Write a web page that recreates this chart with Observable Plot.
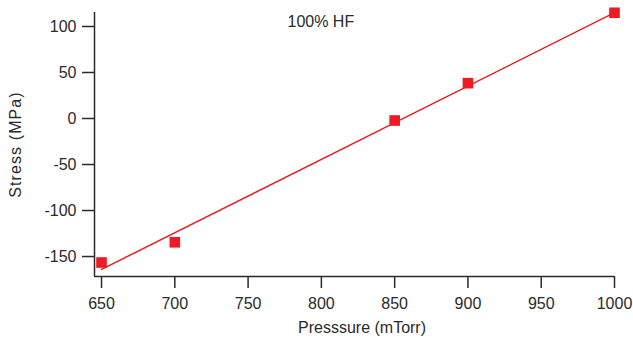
<!DOCTYPE html>
<html><head><meta charset="utf-8">
<script src="https://cdn.jsdelivr.net/npm/d3@7"></script>
<script src="https://cdn.jsdelivr.net/npm/@observablehq/plot@0.6"></script>
<style>body{margin:0;background:#fff} svg{display:block}</style>
</head><body><div id="chart"></div>
<script>
const pressure = [650, 700, 850, 900, 1000];
const stress = [-156.5, -134.5, -2.2, 38.4, 114.9];
const fitPressure = [650, 1000];
const fitStress = [-164, 115];
const xTicks = [650, 700, 750, 800, 850, 900, 950, 1000];
const yTicks = [-150, -100, -50, 0, 50, 100];
const xDomain = [645.2, 1000];
const yDomain = [-171.7, 115.2];
const xLabel = "Presssure (mTorr)";
const yLabel = "Stress (MPa)";
const title = "100% HF";

const points = pressure.map((p, i) => ({p, s: stress[i]}));
const fit = fitPressure.map((p, i) => ({p, s: fitStress[i]}));
const red = "#ed1c24";
const ink = "#2a2a2a";

const chart = Plot.plot({
  width: 633, height: 338,
  marginLeft: 94, marginRight: 19, marginTop: 12, marginBottom: 62,
  style: {fontFamily: "'Liberation Sans', Arial, sans-serif", fontSize: "16px", color: ink, background: "#fff"},
  x: {domain: xDomain},
  y: {domain: yDomain},
  marks: [
    Plot.axisX({ticks: xTicks, tickSize: 12, tickPadding: 9, strokeWidth: 1.5, tickFormat: d => String(d), label: null}),
    Plot.axisY({ticks: yTicks, tickSize: 12, tickPadding: 6, strokeWidth: 1.5, tickFormat: d => String(d), label: null}),
    Plot.ruleX([xDomain[0]], {stroke: ink, strokeWidth: 1.5}),
    Plot.ruleY([yDomain[0]], {stroke: ink, strokeWidth: 1.5}),
    Plot.line(fit, {x: "p", y: "s", stroke: red, strokeWidth: 1.5}),
    Plot.dot(points, {x: "p", y: "s", symbol: "square", fill: red, r: 6}),
    Plot.text([title], {frameAnchor: "top-left", dx: 193, dy: 3, textAnchor: "start", lineAnchor: "top", fontSize: 16, fill: ink}),
    Plot.text([xLabel], {frameAnchor: "bottom", dx: 7.5, dy: 45.5, textAnchor: "middle", lineAnchor: "top", fontSize: 16, fill: ink}),
    Plot.text([yLabel], {frameAnchor: "left", dx: -85, rotate: -90, textAnchor: "middle", lineAnchor: "top", fontSize: 16, fill: ink})
  ]
});
d3.select(chart).selectAll("text").filter(function() { return this.textContent === yLabel; })
  .style("letter-spacing", "1.1px");
document.getElementById("chart").appendChild(chart);
</script>
</body></html>
